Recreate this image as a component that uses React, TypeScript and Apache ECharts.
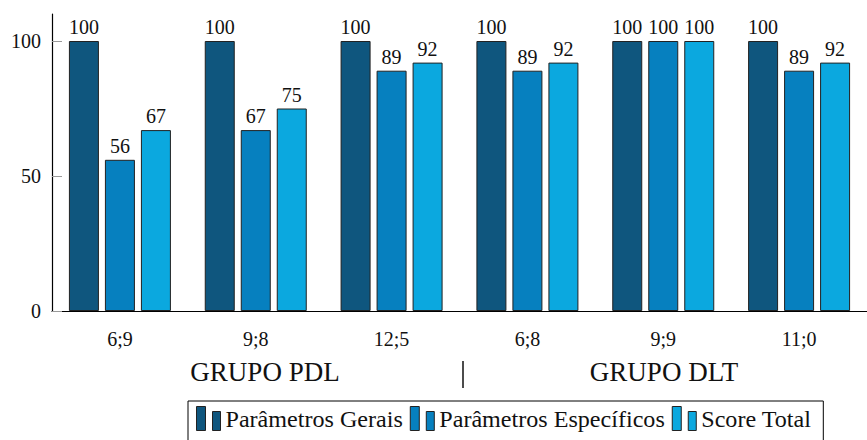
import React, { useEffect, useRef } from "react";
import * as echarts from "echarts";

const categories = ["6;9", "9;8", "12;5", "6;8", "9;9", "11;0"];
const seriesNames = ["Parâmetros Gerais", "Parâmetros Específicos", "Score Total"];
const parametrosGerais = [100, 100, 100, 100, 100, 100];
const parametrosEspecificos = [56, 67, 89, 89, 100, 89];
const scoreTotal = [67, 75, 92, 92, 100, 92];
const yTicks = [0, 50, 100];
const groupLabels = ["GRUPO PDL", "GRUPO DLT"];

const colors = ["#0f567e", "#0680bf", "#0ba8df"];
const FONT = "Liberation Serif";

export default function App() {
  const ref = useRef<HTMLDivElement>(null);
  useEffect(() => {
    if (!ref.current) return;
    const chart = echarts.init(ref.current, null, { renderer: "svg" });
    const data = [parametrosGerais, parametrosEspecificos, scoreTotal];
    const option: any = {
      animation: false,
      backgroundColor: "#ffffff",
      textStyle: { fontFamily: FONT },
      grid: { left: 52, top: 14, width: 825.6, height: 297, containLabel: false },
      xAxis: {
        type: "category",
        data: categories,
        boundaryGap: true,
        axisLine: { lineStyle: { color: "#000", width: 1.2 } },
        axisTick: { alignWithLabel: true, length: 10, lineStyle: { color: "#999", width: 1 } },
        axisLabel: { fontFamily: FONT, fontSize: 20, color: "#111", margin: 18 },
      },
      yAxis: {
        type: "value",
        min: 0,
        max: 110,
        interval: 50,
        splitLine: { show: false },
        axisLine: { show: true, lineStyle: { color: "#000", width: 1.2 } },
        axisTick: { show: true, inside: true, length: 10, customValues: yTicks, lineStyle: { color: "#999", width: 1 } },
        axisLabel: { fontFamily: FONT, fontSize: 20, color: "#111", margin: 11, customValues: yTicks },
      },
      legend: {
        left: 188,
        top: 401,
        orient: "horizontal",
        data: seriesNames,
        itemWidth: 24,
        itemHeight: 24,
        itemGap: 7,
        padding: [5, 12, 14, 8],
        borderColor: "#000",
        borderWidth: 1,
        backgroundColor: "#fff",
        borderRadius: 0,
        icon: "path://M0,0H9V24H0Z M16,5H24V24H16Z",
        itemStyle: { borderColor: "#222", borderWidth: 1 },
        textStyle: { fontFamily: FONT, fontSize: 24.1, color: "#111" },
      },
      graphic: [
        {
          type: "text",
          x: 265,
          y: 372,
          style: { text: groupLabels[0], fontFamily: FONT, fontSize: 27, fill: "#111", align: "center", verticalAlign: "middle" },
        },
        {
          type: "line",
          shape: { x1: 463, y1: 361, x2: 463, y2: 388 },
          style: { stroke: "#111", lineWidth: 1.5 },
        },
        {
          type: "text",
          x: 664,
          y: 372,
          style: { text: groupLabels[1], fontFamily: FONT, fontSize: 27, fill: "#111", align: "center", verticalAlign: "middle" },
        },
      ],
      series: seriesNames.map((name, i) => ({
        name,
        type: "bar",
        data: data[i],
        barWidth: 30,
        barGap: "20%",
        itemStyle: { color: colors[i], borderColor: "#222", borderWidth: 1 },
        label: {
          show: true,
          position: "top",
          distance: 4,
          fontFamily: FONT,
          fontSize: 20,
          color: "#111",
        },
      })),
    };
    chart.setOption(option);
    return () => chart.dispose();
  }, []);
  return <div ref={ref} style={{ position: "absolute", left: 0, top: 0, width: 867, height: 440 }} />;
}
